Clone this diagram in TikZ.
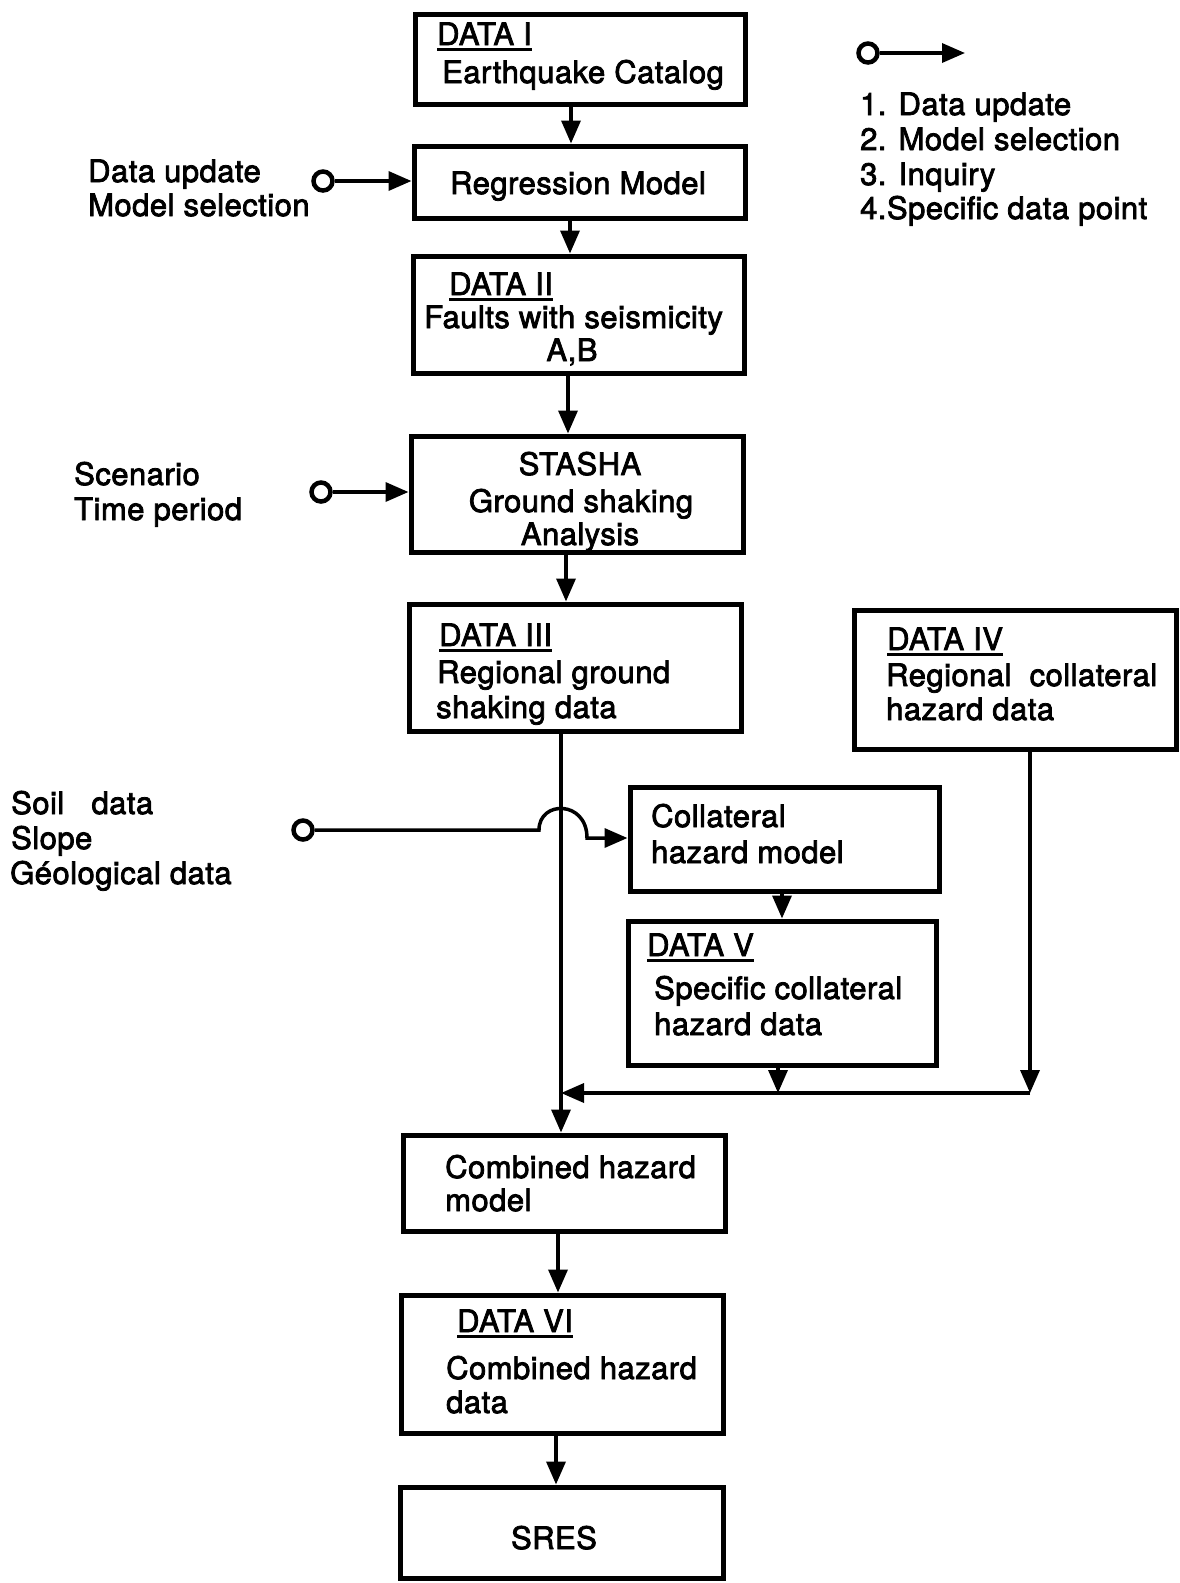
\documentclass[tikz,border=0pt]{standalone}
\usepackage{fontspec}
\setmainfont{TeX Gyre Heros}[FakeBold=2.5, LetterSpace=1.5]
\usetikzlibrary{arrows.meta}
% heavy underline for the DATA headings
\newcommand{\undl}[1]{\setbox0\hbox{#1}\rlap{\rule[-5.5pt]{\wd0}{2.8pt}}\box0}

\begin{document}
\begin{tikzpicture}[x=1pt,y=-1pt,
  box/.style={draw, line width=5pt, rectangle, inner sep=0pt},
  txt/.style={anchor=base west, inner sep=0pt, font=\fontsize{31}{35}\selectfont},
  ctxt/.style={anchor=base, inner sep=0pt, font=\fontsize{31}{35}\selectfont},
  conn/.style={line width=3.5pt},
  arr/.style={conn, -{Triangle[length=23pt,width=19pt]}},
  port/.style={circle, draw, line width=4.5pt, minimum size=19pt, inner sep=0pt, fill=white},
]
\useasboundingbox (0,0) rectangle (1180,1583);

% ---------- boxes ----------
\node[box, minimum width=330, minimum height=90]  (d1)   at (580,59)     {};
\node[box, minimum width=331, minimum height=72]  (reg)  at (579.5,182)  {};
\node[box, minimum width=331, minimum height=117] (d2)   at (578.5,314.5){};
\node[box, minimum width=332, minimum height=116] (sta)  at (577,494)    {};
\node[box, minimum width=332, minimum height=127] (d3)   at (575,667.5)  {};
\node[box, minimum width=322, minimum height=139] (d4)   at (1015,679.5) {};
\node[box, minimum width=309, minimum height=104] (coll) at (784.5,839)  {};
\node[box, minimum width=308, minimum height=144] (d5)   at (782,993)    {};
\node[box, minimum width=322, minimum height=96]  (comb) at (564,1183)   {};
\node[box, minimum width=322, minimum height=138] (d6)   at (562,1364)   {};
\node[box, minimum width=323, minimum height=91]  (sres) at (561.5,1532.5){};

% ---------- box texts ----------
\node[txt] (t1a) at (437,45)  {\undl{DATA I}};
\node[txt] (t1b) at (442,83)  {Earthquake Catalog};

\node[ctxt] (t2) at (578,194) {Regression Model};

\node[txt]  (t3a) at (449,295) {\undl{DATA II}};
\node[txt]  (t3b) at (424,328) {Faults with seismicity};
\node[ctxt] (t3c) at (572,361) {A,B};

\node[ctxt] (t4a) at (580,475) {STASHA};
\node[ctxt] (t4b) at (581,512) {Ground shaking};
\node[ctxt] (t4c) at (580,545) {Analysis};

\node[txt] (t5a) at (439,646) {\undl{DATA III}};
\node[txt] (t5b) at (437,683) {Regional ground};
\node[txt] (t5c) at (436,718) {shaking data};

\node[txt] (t6a) at (887,650) {\undl{DATA IV}};
\node[txt] (t6b) at (886,686) {Regional\ \ collateral};
\node[txt] (t6c) at (886,720) {hazard data};

\node[txt] (t7a) at (651,827) {Collateral};
\node[txt] (t7b) at (651,863) {hazard model};

\node[txt] (t8a) at (647,956)  {\undl{DATA V}};
\node[txt] (t8b) at (654,999)  {Specific collateral};
\node[txt] (t8c) at (654,1035) {hazard data};

\node[txt] (t9a) at (445,1178) {Combined hazard};
\node[txt] (t9b) at (445,1211) {model};

\node[txt] (t10a) at (457,1332) {\undl{DATA VI}};
\node[txt] (t10b) at (446,1379) {Combined hazard};
\node[txt] (t10c) at (446,1413) {data};

\node[ctxt] (t11) at (554,1549) {SRES};

% ---------- input labels ----------
\node[txt] (in1a) at (88,182) {Data update};
\node[txt] (in1b) at (88,216) {Model selection};
\node[txt] (in2a) at (74,485) {Scenario};
\node[txt] (in2b) at (74,520) {Time period};
\node[txt] (in3a) at (11,814) {Soil\ \ \ data};
\node[txt] (in3b) at (11,849) {Slope};
\node[txt] (in3c) at (10,884) {Géological data};

% ---------- legend ----------
\node[port] (p0) at (868,53) {};
\coordinate (legtip) at (965,53);
\draw[arr] (p0.east) -- (legtip);
\node[txt] (lg1) at (860,115) {1. Data update};
\node[txt] (lg2) at (860,150) {2. Model selection};
\node[txt] (lg3) at (860,185) {3. Inquiry};
\node[txt] (lg4) at (860,219) {4.Specific data point};

% ---------- flow columns ----------
\coordinate (x1) at (571,0);
\coordinate (x2) at (570,0);
\coordinate (x3) at (568,0);
\coordinate (x4) at (566,0);
\coordinate (xm) at (561,0);
\coordinate (x5) at (782,0);
\coordinate (x6) at (778,0);
\coordinate (x7) at (1030,0);
\coordinate (x8) at (558,0);
\coordinate (x9) at (556,0);
\coordinate (yj) at (0,1093);

\draw[arr] (x1 |- d1.south)  -- (x1 |- reg.north);
\draw[arr] (x2 |- reg.south) -- (x2 |- d2.north);
\draw[arr] (x3 |- d2.south)  -- (x3 |- sta.north);
\draw[arr] (x4 |- sta.south) -- (x4 |- d3.north);
\draw[arr] (xm |- d3.south)  -- (xm |- comb.north);
\draw[arr] (x5 |- coll.south) -- (x5 |- d5.north);
\draw[arr] (x6 |- d5.south)  -- (x6 |- yj);
\draw[arr] (x7 |- d4.south)  -- (x7 |- yj);
\draw[arr] (x7 |- yj) -- (xm |- yj);
\draw[arr] (x8 |- comb.south) -- (x8 |- d6.north);
\draw[arr] (x9 |- d6.south)  -- (x9 |- sres.north);

% ---------- external inputs ----------
\node[port] (p1) at (323,181) {};
\node[port] (p2) at (321,492) {};
\node[port] (p3) at (303,830) {};
\draw[arr] (p1.east) -- (p1 -| reg.west);
\draw[arr] (p2.east) -- (p2 -| sta.west);
\coordinate (hopL) at (539,830);
\coordinate (hopR) at (587,838);
\draw[arr] (p3.east) -- (hopL) .. controls (539,800) and (587,800) .. (hopR) -- (hopR -| coll.west);
\end{tikzpicture}
\end{document}
